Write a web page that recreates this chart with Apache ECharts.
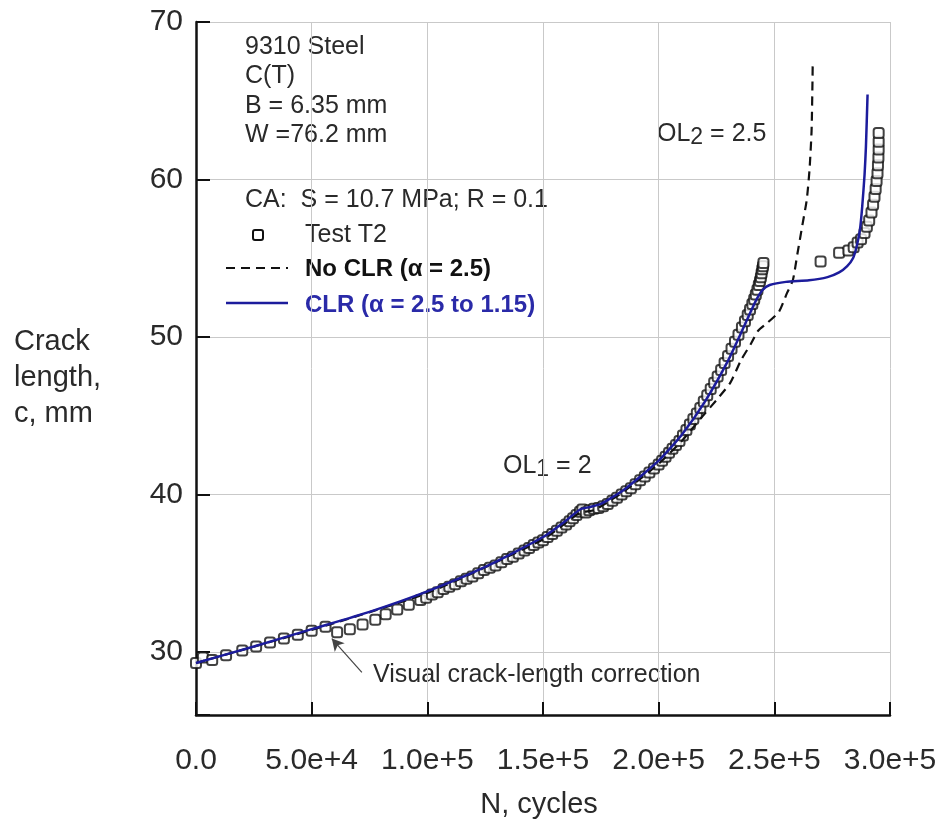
<!DOCTYPE html>
<html>
<head>
<meta charset="utf-8">
<script src="https://cdn.jsdelivr.net/npm/echarts@6/dist/echarts.min.js"></script>
<style>
  html, body { margin: 0; padding: 0; background: #ffffff; }
  #chart { width: 944px; height: 827px; }
</style>
</head>
<body>
<div id="chart"></div>
<script>
// ---- Data ----
var xTicks = [0, 50000, 100000, 150000, 200000, 250000, 300000];
var yTicks = [30, 40, 50, 60, 70];

// Test T2 measured points: N (cycles), c (mm)
var testN = [0, 3000, 7000, 13000, 20000, 26000, 32000, 38000, 44000, 50000, 56000,
  61000, 66500, 72000, 77500, 82000, 87000, 92000, 97000, 99500, 102000, 104500, 107000,
  109500, 112000, 114500, 117000, 119500, 122000, 124500, 127000, 129500, 132000, 134500,
  137000, 139500, 142000, 144000, 146000, 148000, 150000, 152000, 154000, 156000, 158000,
  160000, 161500, 163000, 164500, 166000, 167000, 168500, 170000, 172000, 174000, 176000,
  178000, 180000, 182000, 184000, 186000, 188000, 190000, 192000, 194000, 196000, 198000,
  200000, 201500, 203000, 204500, 206000, 207500, 209000, 210500, 212000, 213500, 215000,
  216500, 218000, 219500, 221000, 222500, 224000, 225500, 227000, 228500, 230000, 231500,
  233000, 234500, 236000, 237300, 238500, 239500, 240500, 241300, 242000, 242700, 243300,
  243800, 244200, 244500, 244800, 245100, 245300,
  270000, 278000, 282000, 284300, 286000, 287500, 289000, 290000, 291000, 292000, 292700,
  293300, 293800, 294200, 294600, 294800, 295000, 295100, 295100, 295100];
var testC = [29.3, 29.65, 29.5, 29.8, 30.1, 30.35, 30.6, 30.85, 31.1, 31.35, 31.6,
  31.25, 31.45, 31.75, 32.05, 32.4, 32.7, 33.0, 33.3, 33.45, 33.65, 33.8, 34.0,
  34.15, 34.3, 34.5, 34.65, 34.8, 35.0, 35.2, 35.35, 35.5, 35.7, 35.9,
  36.05, 36.25, 36.45, 36.6, 36.8, 36.95, 37.1, 37.3, 37.5, 37.7, 37.9,
  38.1, 38.3, 38.5, 38.7, 38.9, 39.05, 38.85, 39.0, 39.1, 39.15, 39.25,
  39.4, 39.6, 39.8, 40.0, 40.2, 40.4, 40.65, 40.9, 41.15, 41.4, 41.65,
  41.9, 42.15, 42.4, 42.65, 42.9, 43.15, 43.4, 43.75, 44.1, 44.45, 44.8,
  45.15, 45.5, 45.9, 46.3, 46.7, 47.1, 47.5, 47.9, 48.35, 48.8, 49.25,
  49.7, 50.15, 50.6, 51.0, 51.4, 51.75, 52.1, 52.4, 52.7, 53.0, 53.3,
  53.55, 53.8, 54.05, 54.3, 54.5, 54.7,
  54.8, 55.35, 55.5, 55.7, 56.0, 56.2, 56.6, 57.0, 57.4, 57.9, 58.4,
  58.9, 59.4, 59.9, 60.4, 60.9, 61.4, 61.9, 62.4, 62.95];

// No CLR (alpha = 2.5) model
var noClrN = [0, 50000, 100000, 150000, 166000, 172000, 185000, 200000, 210000, 218000,
  225000, 231000, 235500, 240000, 243000, 247000, 252000, 255500, 258000, 260000,
  262000, 264000, 265200, 266100, 266500, 266600];
var noClrC = [29.3, 31.4, 33.75, 37.15, 38.85, 39.0, 40.2, 41.95, 43.4, 44.8,
  46.0, 47.1, 48.5, 49.6, 50.4, 50.9, 51.6, 52.8, 53.6, 55.3,
  57.0, 58.7, 60.6, 63.1, 66.3, 67.5];

// CLR (alpha = 2.5 to 1.15) model
var clrN = [0, 25000, 50000, 75000, 100000, 125000, 150000, 160000, 166000, 170000,
  175000, 185000, 200000, 210000, 220000, 230000, 237000, 242000, 245000, 248000,
  255000, 265000, 273000, 278000, 281500, 284000, 285500, 287000, 288000, 289000,
  289600, 290300];
var clrC = [29.3, 30.35, 31.45, 32.55, 33.85, 35.4, 37.3, 38.35, 39.05, 39.2,
  39.4, 40.3, 42.15, 43.8, 45.9, 48.5, 50.7, 52.3, 53.0, 53.3,
  53.5, 53.6, 53.8, 54.1, 54.5, 55.0, 55.7, 56.8, 58.3, 60.3,
  62.1, 65.4];

// Annotation arrow (data coordinates): tail -> tip
var arrowTail = [71700, 28.7];
var arrowTip = [58700, 30.85];

var legendLabels = ['Test T2', 'No CLR (\u03B1 = 2.5)', 'CLR (\u03B1 = 2.5 to 1.15)'];

function zip(a, b) { return a.map(function (v, i) { return [v, b[i]]; }); }

var FONT = '"Liberation Sans", Arial, sans-serif';
var TXT = '#2a2a2a';
var BLUE = '#1c1c9c';
var BLUE_TXT = '#2a2aa8';

var chart = echarts.init(document.getElementById('chart'), null, { renderer: 'canvas' });

var option = {
  animation: false,
  backgroundColor: '#ffffff',
  grid: { left: 196, right: 54, top: 22, bottom: 112, containLabel: false },
  xAxis: {
    type: 'value', min: 0, max: 300000, interval: 50000,
    axisLine: { show: true, onZero: false, lineStyle: { color: '#111', width: 2.5 } },
    axisTick: { show: true, inside: true, length: 13, lineStyle: { color: '#111', width: 2 } },
    axisLabel: {
      fontSize: 30, fontFamily: FONT, color: TXT, margin: 31,
      formatter: function (v) {
        if (xTicks.indexOf(v) < 0) return '';
        return v === 0 ? '0.0' : v.toExponential(1);
      }
    },
    splitLine: { show: true, lineStyle: { color: '#c9c9c9', width: 1 } }
  },
  yAxis: {
    type: 'value', min: 26, max: 70,
    axisLine: { show: true, onZero: false, lineStyle: { color: '#111', width: 2.5 } },
    axisTick: { show: true, inside: true, length: 14, lineStyle: { color: '#111', width: 2 } },
    axisLabel: {
      fontSize: 30, fontFamily: FONT, color: TXT, margin: 13,
      formatter: function (v) { return yTicks.indexOf(v) >= 0 ? String(v) : ''; }
    },
    splitLine: { show: true, lineStyle: { color: '#c9c9c9', width: 1 } }
  },
  series: [
    {
      name: legendLabels[0], type: 'scatter', data: zip(testN, testC),
      symbol: 'roundRect', symbolSize: 10,
      itemStyle: { color: '#ffffff', borderColor: '#111', borderWidth: 2 },
      z: 2,
      markLine: {
        silent: true, symbol: ['none', 'arrow'], symbolSize: [10, 12],
        lineStyle: { color: '#444', width: 1.2, type: 'solid' },
        label: { show: false },
        data: [[{ coord: arrowTail }, { coord: arrowTip }]]
      }
    },
    {
      name: legendLabels[1], type: 'line', data: zip(noClrN, noClrC),
      symbol: 'none', smooth: 0.2,
      lineStyle: { color: '#111', width: 2.2, type: [9, 6] },
      itemStyle: { color: '#111' },
      z: 3
    },
    {
      name: legendLabels[2], type: 'line', data: zip(clrN, clrC),
      symbol: 'none', smooth: 0.2,
      lineStyle: { color: BLUE, width: 2.5 },
      itemStyle: { color: BLUE },
      z: 4
    }
  ],
  graphic: [
    { type: 'text', left: 245, top: 32, style: { text: '9310 Steel\nC(T)\nB = 6.35 mm\nW =76.2 mm', font: '25px ' + FONT, fill: TXT, lineHeight: 29.5 } },
    { type: 'text', left: 245, top: 185, style: { text: 'CA:  S = 10.7 MPa; R = 0.1', font: '25px ' + FONT, fill: TXT, lineHeight: 30 } },
    // legend samples
    { type: 'rect', shape: { x: 253, y: 230, width: 10, height: 10, r: 2 }, style: { fill: '#ffffff', stroke: '#111', lineWidth: 2 }, z: 10 },
    { type: 'text', left: 305, top: 220, style: { text: legendLabels[0], font: '25px ' + FONT, fill: TXT, lineHeight: 30 } },
    { type: 'line', shape: { x1: 226, y1: 268, x2: 288, y2: 268 }, style: { stroke: '#111', lineWidth: 2.2, lineDash: [9, 6] }, z: 10 },
    { type: 'text', left: 305, top: 254, style: { text: legendLabels[1], font: 'bold 24px ' + FONT, fill: '#111', lineHeight: 30 } },
    { type: 'line', shape: { x1: 226, y1: 303, x2: 288, y2: 303 }, style: { stroke: BLUE, lineWidth: 2.5 }, z: 10 },
    { type: 'text', left: 305, top: 290, style: { text: legendLabels[2], font: 'bold 24px ' + FONT, fill: BLUE_TXT, lineHeight: 30 } },
    { type: 'text', left: 657, top: 112, style: {
        text: '{a|OL}{s|2}{a| = 2.5}',
        rich: {
          a: { fontSize: 25, fontFamily: FONT, fill: TXT, lineHeight: 30, verticalAlign: 'middle' },
          s: { fontSize: 23, fontFamily: FONT, fill: TXT, lineHeight: 30, padding: [14, 0, 0, 0], verticalAlign: 'bottom' }
        } } },
    { type: 'text', left: 503, top: 444, style: {
        text: '{a|OL}{s|1}{a| = 2}',
        rich: {
          a: { fontSize: 25, fontFamily: FONT, fill: TXT, lineHeight: 30, verticalAlign: 'middle' },
          s: { fontSize: 23, fontFamily: FONT, fill: TXT, lineHeight: 30, padding: [14, 0, 0, 0], verticalAlign: 'bottom' }
        } } },
    { type: 'text', left: 373, top: 660, style: { text: 'Visual crack-length correction', font: '25px ' + FONT, fill: TXT, lineHeight: 30 } },
    { type: 'text', left: 14, top: 324, style: { text: 'Crack\nlength,\nc, mm', font: '29px ' + FONT, fill: TXT, lineHeight: 36 } },
    { type: 'text', x: 539, y: 805, style: { text: 'N, cycles', font: '29px ' + FONT, fill: TXT, textAlign: 'center', textVerticalAlign: 'middle' } }
  ]
};

chart.setOption(option);
</script>
</body>
</html>
